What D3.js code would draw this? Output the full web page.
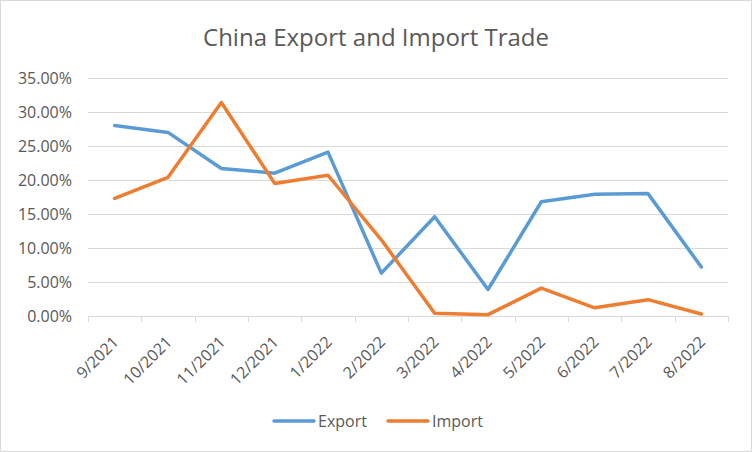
<!DOCTYPE html>
<html>
<head>
<meta charset="utf-8">
<script src="https://cdn.jsdelivr.net/npm/d3@7"></script>
<style>
  body { margin: 0; background: #fff; }
  .vis { width: 752px; height: 452px; }
  text { font-family: "Open Sans", Lato, sans-serif; fill: #595959; }
</style>
</head>
<body>
<div class="vis"></div>
<script>
var months = ['9/2021', '10/2021', '11/2021', '12/2021', '1/2022', '2/2022',
  '3/2022', '4/2022', '5/2022', '6/2022', '7/2022', '8/2022'];
var exportVals = [28.0, 27.0, 21.7, 21.0, 24.1, 6.3, 14.6, 3.9, 16.8, 17.9, 18.0, 7.2];
var importVals = [17.3, 20.4, 31.4, 19.5, 20.7, 11.2, 0.4, 0.2, 4.1, 1.2, 2.4, 0.3];
var yTicks = [0, 5, 10, 15, 20, 25, 30, 35];
var seriesNames = ['Export', 'Import'];

(function() {
  'use strict';

  var elWidth = 752, elHeight = 452,
    margin = {top: 78, right: 24, bottom: 136, left: 88},
    width = elWidth - margin.left - margin.right,
    height = elHeight - margin.top - margin.bottom;

  var colors = ['#5B9BD5', '#ED7D31'];
  var series = [exportVals, importVals];

  var root = d3.select('.vis').append('svg')
    .attr('width', elWidth)
    .attr('height', elHeight);

  root.append('rect')
    .attr('x', 0.5).attr('y', 0.5)
    .attr('width', elWidth - 1).attr('height', elHeight - 1)
    .attr('fill', '#fff')
    .attr('stroke', '#d9d9d9');

  root.append('text')
    .attr('x', elWidth / 2)
    .attr('y', 46)
    .attr('text-anchor', 'middle')
    .style('font-size', '24px')
    .text('China Export and Import Trade');

  var svg = root.append('g')
    .attr('transform', 'translate(' + margin.left + ',' + margin.top + ')');

  var x = d3.scaleBand().domain(months).range([0, width]);
  var y = d3.scaleLinear().domain([0, 35]).range([height, 0]);

  // gridlines
  svg.selectAll('.grid')
    .data(yTicks)
    .enter().append('line')
      .attr('x1', 0).attr('x2', width)
      .attr('y1', function(d) { return Math.round(y(d)) + 0.5; })
      .attr('y2', function(d) { return Math.round(y(d)) + 0.5; })
      .attr('stroke', '#d9d9d9');

  // y labels
  svg.selectAll('.ylab')
    .data(yTicks)
    .enter().append('text')
      .attr('x', -16)
      .attr('y', function(d) { return y(d); })
      .attr('dy', '0.35em')
      .attr('text-anchor', 'end')
      .style('font-size', '16px')
      .text(function(d) { return d.toFixed(2) + '%'; });

  // x tick marks at band edges
  var edges = months.map(function(m) { return x(m); }).concat([width]);
  svg.selectAll('.xtick')
    .data(edges)
    .enter().append('line')
      .attr('x1', function(d) { return Math.round(d) + 0.5; })
      .attr('x2', function(d) { return Math.round(d) + 0.5; })
      .attr('y1', height).attr('y2', height + 6)
      .attr('stroke', '#d9d9d9');

  // x labels
  svg.selectAll('.xlab')
    .data(months)
    .enter().append('text')
      .attr('text-anchor', 'end')
      .attr('transform', function(d) {
        return 'translate(' + (x(d) + x.bandwidth() / 2 + 5) + ',' + (height + 27) + ') rotate(-45)';
      })
      .style('font-size', '16px')
      .text(function(d) { return d; });

  var line = d3.line()
    .x(function(d, i) { return x(months[i]) + x.bandwidth() / 2; })
    .y(function(d) { return y(d); });

  svg.selectAll('.series')
    .data(series)
    .enter().append('path')
      .attr('d', line)
      .attr('fill', 'none')
      .attr('stroke', function(d, i) { return colors[i]; })
      .attr('stroke-width', 3.5)
      .attr('stroke-linejoin', 'round')
      .attr('stroke-linecap', 'round');

  // legend
  var legendX = [274, 388];
  var legend = root.selectAll('.legend')
    .data(seriesNames)
    .enter().append('g')
      .attr('transform', function(d, i) { return 'translate(' + legendX[i] + ',421)'; });

  legend.append('line')
    .attr('x1', 0).attr('x2', 40)
    .attr('stroke', function(d, i) { return colors[i]; })
    .attr('stroke-width', 3.5)
    .attr('stroke-linecap', 'round');

  legend.append('text')
    .attr('x', 44)
    .attr('dy', '0.35em')
    .style('font-size', '16px')
    .text(function(d) { return d; });
}());
</script>
</body>
</html>
